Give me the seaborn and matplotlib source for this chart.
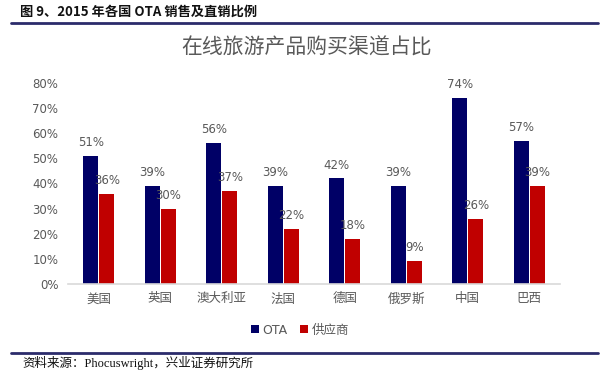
import matplotlib
matplotlib.use("Agg")
import matplotlib.pyplot as plt
import seaborn as sns
import pandas as pd
from matplotlib.lines import Line2D
from matplotlib.patches import Patch

categories = ["美国", "英国", "澳大利亚", "法国", "德国", "俄罗斯", "中国", "巴西"]
ota = [0.51, 0.39, 0.56, 0.39, 0.42, 0.39, 0.74, 0.57]
supplier = [0.36, 0.30, 0.37, 0.22, 0.18, 0.09, 0.26, 0.39]
series_names = ["OTA", "供应商"]
yticks = [0, 0.1, 0.2, 0.3, 0.4, 0.5, 0.6, 0.7, 0.8]
ytick_labels = ["0%", "10%", "20%", "30%", "40%", "50%", "60%", "70%", "80%"]

df = pd.DataFrame({
    "country": categories * 2,
    "value": ota + supplier,
    "series": [series_names[0]] * len(categories) + [series_names[1]] * len(categories),
})

sns.set_theme(style="white")
plt.rcParams["font.family"] = ["Noto Sans CJK SC", "DejaVu Sans"]

W, H = 610, 377
fig = plt.figure(figsize=(W / 100, H / 100), dpi=100)
ax = fig.add_axes([68 / W, 1 - 284 / H, (560 - 68) / W, (284 - 83) / H])

colors = ["#000066", "#C00000"]
sns.barplot(data=df, x="country", y="value", hue="series", palette=colors,
            width=0.52, gap=0.08, ax=ax, legend=False, saturation=1, linewidth=0)

grey = "#595959"
for cont in ax.containers:
    labels = [f"{v*100:.0f}%" for v in cont.datavalues]
    ax.bar_label(cont, labels=labels, padding=5, color=grey, fontsize=8.5,
                 family=["DejaVu Sans"])

ax.set_ylim(0, 0.8)
ax.set_yticks(yticks)
ax.set_yticklabels(ytick_labels)
ax.set_xlim(-0.5, len(categories) - 0.5)
ax.set_xlabel("")
ax.set_ylabel("")
for s in ["top", "right", "left"]:
    ax.spines[s].set_visible(False)
ax.spines["bottom"].set_color("#D9D9D9")
ax.spines["bottom"].set_linewidth(1.2)
ax.tick_params(axis="y", colors=grey, labelsize=8.5, length=0, pad=7)
ax.tick_params(axis="x", colors=grey, labelsize=9, length=0, pad=6)
for t in ax.get_yticklabels():
    t.set_fontfamily(["DejaVu Sans"])

# chart title
fig.text(307 / W, 1 - 48 / H, "在线旅游产品购买渠道占比", ha="center", va="center",
         fontsize=15, color=grey)

# legend
handles = [Patch(facecolor=c, edgecolor="none") for c in colors]
fig.legend(handles, series_names, loc="center", bbox_to_anchor=(300 / W, 1 - 330 / H),
           ncol=2, frameon=False, handlelength=0.6, handleheight=0.6,
           handletextpad=0.3, columnspacing=1.0, labelcolor=grey,
           prop={"family": ["DejaVu Sans", "Noto Sans CJK SC"], "size": 9})

# header
fig.text(20 / W, 1 - 12 / H, "图 9、2015 年各国 OTA 销售及直销比例", ha="left", va="center",
         fontsize=9.5, fontweight="bold", color="#111111")
fig.add_artist(Line2D([11 / W, 598 / W], [1 - 23 / H, 1 - 23 / H],
                      transform=fig.transFigure, color="#2B2B6B", linewidth=2))
fig.add_artist(Line2D([11 / W, 598 / W], [1 - 353 / H, 1 - 353 / H],
                      transform=fig.transFigure, color="#2B2B6B", linewidth=2))
fig.text(22 / W, 1 - 363 / H, "资料来源：Phocuswright，兴业证券研究所", ha="left", va="center",
         fontsize=9, color="#111111", family=["Liberation Serif", "Noto Sans CJK SC"])

fig.savefig("out.png", dpi=100)
